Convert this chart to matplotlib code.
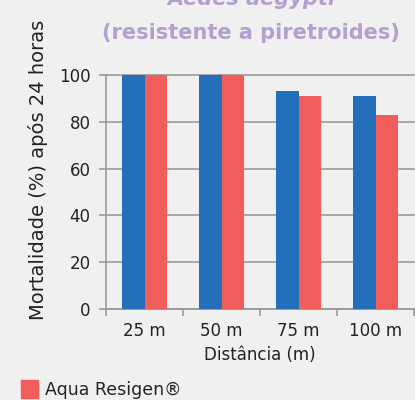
import numpy as np
import matplotlib.pyplot as plt
from matplotlib.patches import Rectangle

# data
distances = ['25 m', '50 m', '75 m', '100 m']
control = [100, 100, 93, 91]
resigen = [100, 100, 91, 83]
y_ticks = [0, 20, 40, 60, 80, 100]

bg = '#eff0ef'
blue = '#236fb9'
red = '#f15d5a'
grey = '#9a9a9a'
purple = '#b3a0d1'
txt = '#222222'
plt.rcParams['font.family'] = ['DejaVu Sans']

W, H = 415, 400
fig = plt.figure(figsize=(W / 100, H / 100), dpi=100, facecolor=bg)
ax = fig.add_axes([106 / W, (H - 309) / H, (414 - 106) / W, (309 - 75) / H])
ax.set_facecolor(bg)

x = np.arange(len(distances))
bw = 0.286
ax.bar(x - bw / 2, control, bw, color=blue, zorder=3)
ax.bar(x + bw / 2, resigen, bw, color=red, zorder=3)

ax.set_xlim(-0.5, len(distances) - 0.5)
ax.set_ylim(0, 100)
ax.set_yticks(y_ticks)
ax.set_yticklabels([str(v) for v in y_ticks], fontsize=12, color=txt)
ax.yaxis.grid(True, color=grey, linewidth=1.2, zorder=0)
for gl in ax.get_ygridlines():
    gl.set_clip_on(False)
ax.tick_params(axis='y', length=5, width=1.2, color=grey, pad=6)

ax.set_xticks(x)
ax.set_xticklabels(distances, fontsize=12, color=txt)
ax.set_xticks(np.arange(len(distances) + 1) - 0.5, minor=True)
ax.tick_params(axis='x', which='major', length=0, pad=9)
ax.tick_params(axis='x', which='minor', length=5, width=1.2, color=grey)

for s in ['top', 'right']:
    ax.spines[s].set_visible(False)
for s in ['left', 'bottom']:
    ax.spines[s].set_color(grey)
    ax.spines[s].set_linewidth(1.2)

ax.set_xlabel('Distância (m)', fontsize=12, color=txt, labelpad=5)

fig.text(38 / W, (H - 320) / H, 'Mortalidade (%) após 24 horas', rotation=90,
         ha='center', va='bottom', fontsize=14, color=txt)

fig.text(251 / W, (H + 1) / H, 'Aedes aegypti', ha='center', va='center',
         fontsize=15, fontweight='bold', style='italic', color=purple)
fig.text(251 / W, (H - 33) / H, '(resistente a piretroides)', ha='center',
         va='center', fontsize=15, fontweight='bold', color=purple)

# legend entry (partially visible at the bottom)
fig.patches.append(Rectangle((21 / W, (H - 398) / H), 17 / W, 18 / H,
                             transform=fig.transFigure, color=red))
fig.text(45 / W, (H - 390) / H, 'Aqua Resigen®', ha='left', va='center',
         fontsize=12.5, color=txt)

fig.savefig('out.png', dpi=100, facecolor=bg)
